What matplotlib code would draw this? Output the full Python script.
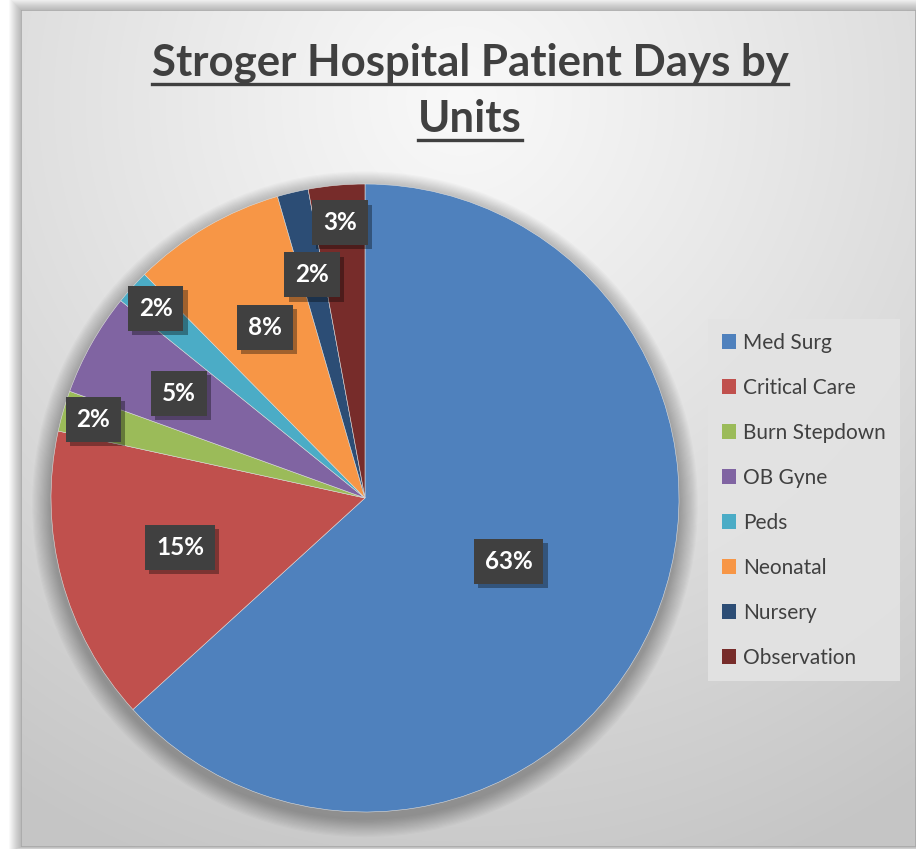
import numpy as np
import matplotlib
matplotlib.use('Agg')
import matplotlib.pyplot as plt
from matplotlib.patches import Patch, Rectangle, Circle
from matplotlib.lines import Line2D
import matplotlib.patheffects as pe

# data
units = ['Med Surg', 'Critical Care', 'Burn Stepdown', 'OB Gyne',
         'Peds', 'Neonatal', 'Nursery', 'Observation']
share = [63.3, 15.2, 2.1, 5.3, 1.8, 7.9, 1.6, 2.9]
pct_labels = ['63%', '15%', '2%', '5%', '2%', '8%', '2%', '3%']
colors = ['#4F81BD', '#C0504D', '#9BBB59', '#8064A2',
          '#4BACC6', '#F79646', '#2C4D75', '#772C2A']
# how far out each label sits (fraction of radius)
label_r = [0.50, 0.61, 0.90, 0.68, 0.90, 0.63, 0.73, 0.88]

plt.rcParams['font.family'] = ['Lato', 'DejaVu Sans']

W, H = 916, 849
fig = plt.figure(figsize=(W / 100, H / 100), dpi=100)
fig.patch.set_facecolor('white')

# frame (chart area) in pixels
fl, ft, fr, fb = 21, 10, 916, 847

# soft shadow around the frame
for k in range(12):
    d = 12 - k
    fig.patches.append(Rectangle(((fl - d) / W, 1 - (fb + d * 0.3) / H),
                                 (fr - fl + 2 * d) / W, (fb - ft + d * 1.3) / H,
                                 transform=fig.transFigure, facecolor='black',
                                 alpha=0.025, edgecolor='none', zorder=0))

# gradient background of chart area
bg = fig.add_axes([fl / W, 1 - fb / H, (fr - fl) / W, (fb - ft) / H], zorder=1)
yy, xx = np.mgrid[0:fb - ft, 0:fr - fl]
dist = np.sqrt((xx - 440) ** 2 + ((yy - 90) * 1.0) ** 2)
g = 0.975 - 0.20 * np.clip(dist / 820, 0, 1) ** 1.1
bg.imshow(np.dstack([g, g, g]), aspect='auto', interpolation='bilinear')
bg.set_axis_off()
bg.add_patch(Rectangle((0, 0), 1, 1, transform=bg.transAxes, fill=False,
                       edgecolor='#a8a8a8', linewidth=1.2))

# pie axes: centre (365, 498), radius 314 px
cx, cy, r = 365, 498, 314
ax = fig.add_axes([(cx - r) / W, 1 - (cy + r) / H, 2 * r / W, 2 * r / H], zorder=2)

# blurred pie shadow
for k in range(16):
    ax.add_patch(Circle((0.0, -0.02), 1.0 + 0.06 * (16 - k) / 16,
                        facecolor='black', alpha=0.018, edgecolor='none',
                        zorder=0, clip_on=False))

wedges, _ = ax.pie(share, colors=colors, startangle=90, counterclock=False,
                   radius=1, wedgeprops=dict(linewidth=0.4, edgecolor='#dddddd'))
for w in wedges:
    w.set_zorder(1)
    w.set_clip_on(False)
ax.set_xlim(-1, 1)
ax.set_ylim(-1, 1)
ax.set_aspect('equal')
ax.set_axis_off()

# data labels in dark boxes
for w, lab, rr in zip(wedges, pct_labels, label_r):
    ang = np.deg2rad((w.theta1 + w.theta2) / 2)
    t = ax.text(rr * np.cos(ang), rr * np.sin(ang), lab, ha='center', va='center',
                color='white', fontsize=17.5, fontweight='bold', zorder=5,
                bbox=dict(boxstyle='square,pad=0.45', facecolor='#404040',
                          edgecolor='none'))
    t.get_bbox_patch().set_path_effects([
        pe.SimplePatchShadow(offset=(3, -3), shadow_rgbFace='black', alpha=0.35),
        pe.Normal()])

# title
title_lines = ['Stroger Hospital Patient Days by', 'Units']
title_y = [63, 119]
title_texts = []
for s, y in zip(title_lines, title_y):
    t = fig.text(470 / W, 1 - y / H, s, ha='center', va='center', fontsize=31.5,
                 fontweight='bold', color='#404040', zorder=5)
    title_texts.append(t)

# legend
handles = [Patch(facecolor=c, edgecolor='none') for c in colors]
leg = fig.legend(handles, units, loc='upper left',
                 bbox_to_anchor=(708 / W, 1 - 319 / H), fontsize=15,
                 frameon=True, fancybox=False, handlelength=0.7,
                 handleheight=0.7, handletextpad=0.35, labelspacing=1.2,
                 borderpad=0.65, borderaxespad=0)
leg.set_zorder(6)
leg.get_frame().set_facecolor('#e3e3e3')
leg.get_frame().set_edgecolor('none')
leg.get_frame().set_alpha(0.9)
for txt in leg.get_texts():
    txt.set_color('#404040')

# underline the title
fig.canvas.draw()
rend = fig.canvas.get_renderer()
for t in title_texts:
    bb = t.get_window_extent(rend)
    uy = bb.y0 - 1
    fig.add_artist(Line2D([bb.x0 / W, bb.x1 / W], [uy / H, uy / H],
                          transform=fig.transFigure, color='#404040',
                          linewidth=2.4, zorder=5))

fig.savefig('out.png', dpi=100)
